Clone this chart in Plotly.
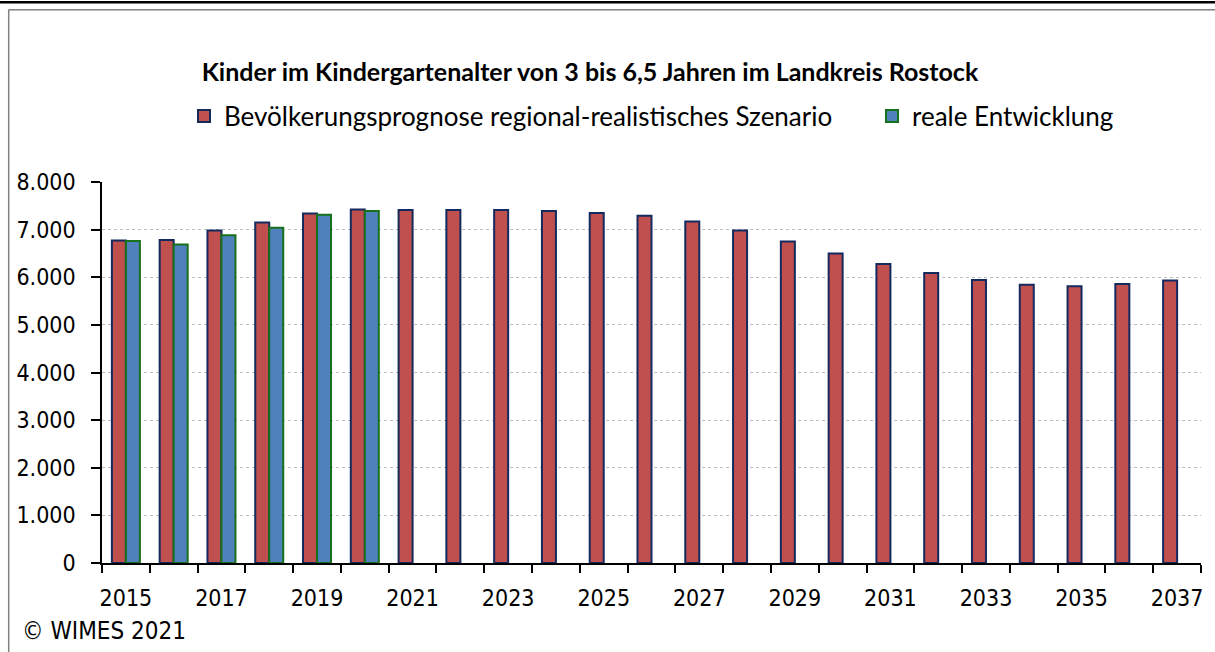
import plotly.graph_objects as go

years = list(range(2015, 2038))
prognose = [6770, 6780, 6980, 7150, 7340, 7420, 7410, 7410, 7410, 7390, 7350, 7290,
            7170, 6980, 6750, 6500, 6280, 6090, 5940, 5840, 5810, 5860, 5930]
real = [6760, 6690, 6880, 7040, 7310, 7390] + [None] * 17
tick_years = list(range(2015, 2038, 2))
y_ticks = [0, 1000, 2000, 3000, 4000, 5000, 6000, 7000, 8000]

title_text = "Kinder im Kindergartenalter von 3 bis 6,5 Jahren im Landkreis Rostock"
name_prog = "Bevölkerungsprognose regional-realistisches Szenario"
name_real = "reale Entwicklung"

tick_font = dict(family="DejaVu Sans Condensed, DejaVu Sans", size=23, color="black")
legend_font = dict(family="Lato", size=26, color="black")

fig = go.Figure()
fig.add_trace(go.Bar(x=years, y=prognose, name=name_prog, legend="legend",
                     marker=dict(color="#C0504D", line=dict(color="#14295E", width=2))))
fig.add_trace(go.Bar(x=years, y=real, name=name_real, legend="legend2",
                     marker=dict(color="#4F81BD", line=dict(color="#17701A", width=2))))

fig.update_layout(
    width=1215, height=652,
    paper_bgcolor="white", plot_bgcolor="white",
    margin=dict(l=102, r=14, t=182, b=89),
    barmode="group", bargap=0.414, bargroupgap=0,
    separators=",.",
    title=dict(text=title_text, x=590/1215, xref="container", xanchor="center",
               y=1 - 72/652, yref="container", yanchor="middle",
               font=dict(family="Lato", size=25, color="black", weight="bold")),
    legend=dict(orientation="h", xref="container", yref="container",
                x=184/1215, xanchor="left", y=1 - 116/652, yanchor="middle",
                font=legend_font, bgcolor="rgba(0,0,0,0)"),
    legend2=dict(orientation="h", xref="container", yref="container",
                 x=872/1215, xanchor="left", y=1 - 116/652, yanchor="middle",
                 font=legend_font, bgcolor="rgba(0,0,0,0)"),
    showlegend=True,
)

fig.update_xaxes(
    range=[2014.5, 2037.5], tickmode="array", tickvals=tick_years,
    ticktext=[str(y) for y in tick_years], ticks="", showgrid=False,
    showline=True, linecolor="black", linewidth=1.5,
    tickfont=tick_font, ticklabelstandoff=14,
    minor=dict(tickmode="array", tickvals=[y + 0.5 for y in range(2014, 2038)],
               ticks="outside", ticklen=8, tickcolor="black", tickwidth=1.5, showgrid=False),
)
fig.update_yaxes(
    range=[0, 8000], tickmode="array", tickvals=y_ticks, tickformat=",d",
    ticks="outside", ticklen=9, tickcolor="black", tickwidth=1.5,
    showline=True, linecolor="black", linewidth=1.5,
    showgrid=True, gridcolor="#BDBDBD", griddash="dot", gridwidth=1,
    tickfont=tick_font, ticklabelstandoff=11, zeroline=False,
)

fig.add_annotation(text="© WIMES 2021", xref="paper", yref="paper",
                   x=(20 - 102) / 1099, xanchor="left", y=-(631 - 563) / 381, yanchor="middle",
                   showarrow=False, font=dict(family="DejaVu Sans Condensed, DejaVu Sans",
                                              size=24, color="black"))

# frame lines
fig.add_shape(type="line", xref="paper", yref="paper", x0=-102/1099, x1=1 + 14/1099,
              y0=1 + (182 - 2.3) / 381, y1=1 + (182 - 2.3) / 381,
              line=dict(color="black", width=2.5))
fig.add_shape(type="line", xref="paper", yref="paper", x0=(8.5 - 102)/1099, x1=1 + 14/1099,
              y0=1 + (182 - 9.7) / 381, y1=1 + (182 - 9.7) / 381,
              line=dict(color="#808080", width=1.5))
fig.add_shape(type="line", xref="paper", yref="paper", x0=(8.7 - 102)/1099, x1=(8.7 - 102)/1099,
              y0=1 + (182 - 9.7) / 381, y1=-(652 - 563) / 381,
              line=dict(color="#808080", width=1.5))

fig.write_html("out.html", config={"displayModeBar": False},
               post_script="document.body.style.margin='0';")
